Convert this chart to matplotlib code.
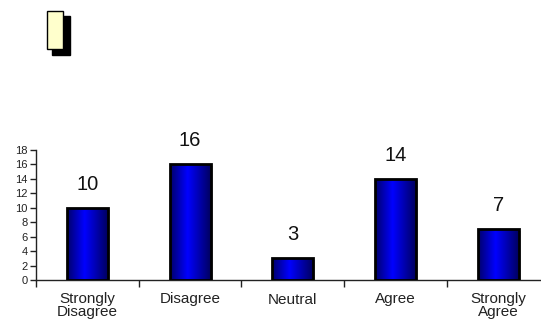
import numpy as np
import matplotlib
matplotlib.use("Agg")
import matplotlib.pyplot as plt
from matplotlib.patches import Rectangle
from matplotlib.colors import LinearSegmentedColormap

categories = ["Strongly\nDisagree", "Disagree", "Neutral", "Agree", "Strongly\nAgree"]
counts = [10, 16, 3, 14, 7]
y_ticks = list(range(0, 19, 2))

plt.rcParams["font.family"] = ["Liberation Sans", "DejaVu Sans"]

W, H = 541, 323
fig = plt.figure(figsize=(W / 100, H / 100), dpi=100)
fig.patch.set_facecolor("white")

# plot area runs past the right edge of the canvas
ax = fig.add_axes([36 / W, 43 / H, 513.5 / W, 130 / H])
ax.set_xlim(0, len(categories))
ax.set_ylim(0, 18)

for s in ("top", "right"):
    ax.spines[s].set_visible(False)
for s in ("left", "bottom"):
    ax.spines[s].set_color("#222222")
    ax.spines[s].set_linewidth(1.0)

# horizontal shading for the bars: dark sides, bright centre
shade = LinearSegmentedColormap.from_list(
    "shade", [(0.0, "#00006a"), (0.42, "#0000ff"), (1.0, "#000058")])
grad = np.linspace(0, 1, 256).reshape(1, -1)

bar_w = 0.4
centers = np.arange(len(categories)) + 0.5
for x, v in zip(centers, counts):
    # soft drop shadow
    ax.add_patch(Rectangle((x - bar_w / 2 + 0.02, -0.0), bar_w, v - 0.25,
                           facecolor="#999999", edgecolor="none", zorder=1,
                           alpha=0.6))
    rect = Rectangle((x - bar_w / 2, 0), bar_w, v, facecolor="none",
                     edgecolor="black", linewidth=2.0, zorder=3)
    ax.add_patch(rect)
    im = ax.imshow(grad, cmap=shade, aspect="auto",
                   extent=(x - bar_w / 2, x + bar_w / 2, 0, v), zorder=2)
    im.set_clip_path(rect)
    ax.annotate(str(v), (x, v), xytext=(0, 17), textcoords="offset points",
                ha="center", va="center", fontsize=14.5, color="#111111")

ax.set_xlim(0, len(categories))
ax.set_ylim(0, 18)

ax.set_yticks(y_ticks)
ax.set_yticklabels([str(t) for t in y_ticks])
ax.tick_params(axis="y", direction="out", length=4, width=1, pad=2,
               labelsize=8, color="#222222", labelcolor="#222222")

ax.set_xticks(centers)
ax.set_xticklabels(categories, fontsize=11, linespacing=0.9,
                   color="#222222")
ax.set_xticks(np.arange(len(categories) + 1), minor=True)
ax.tick_params(axis="x", which="major", length=0, pad=9)
ax.tick_params(axis="x", which="minor", direction="out", length=5, width=1,
               color="#222222")

# legend key in the top-left corner
fig.patches.append(Rectangle((52 / W, 1 - 55 / H), 18 / W, 39 / H,
                             transform=fig.transFigure, facecolor="black",
                             edgecolor="black", zorder=1))
fig.patches.append(Rectangle((47 / W, 1 - 49 / H), 16 / W, 38 / H,
                             transform=fig.transFigure, facecolor="#ffffcc",
                             edgecolor="black", linewidth=1.0, zorder=2))

fig.savefig("out.png", dpi=100)
